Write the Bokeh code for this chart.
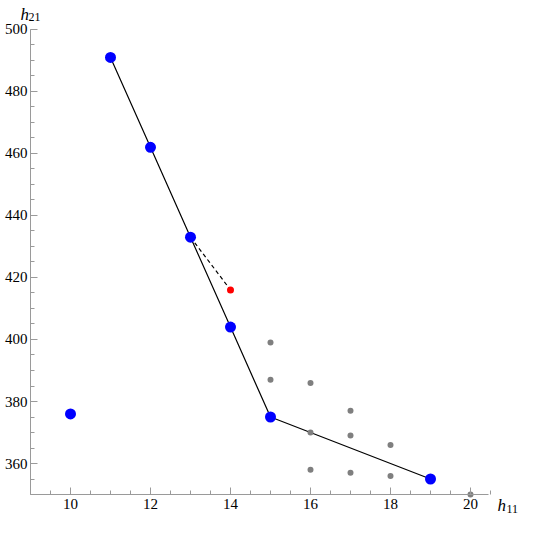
from bokeh.plotting import figure
from bokeh.models import FixedTicker, Label, Range1d, LinearAxis
from bokeh.embed import file_html
from bokeh.resources import INLINE

# Data
blue_x = [11, 12, 13, 14, 15, 19, 10]
blue_y = [491, 462, 433, 404, 375, 355, 376]
path_x = [11, 12, 13, 14, 15, 19]
path_y = [491, 462, 433, 404, 375, 355]
dash_x = [13, 14]
dash_y = [433, 416]
red_x = [14]
red_y = [416]
gray_x = [15, 15, 16, 16, 17, 17, 18, 16, 17, 18, 20]
gray_y = [399, 387, 386, 370, 377, 369, 366, 358, 357, 356, 350]
x_ticks = [10, 12, 14, 16, 18, 20]
y_ticks = [360, 380, 400, 420, 440, 460, 480, 500]
x_minor = [9 + 0.5 * i for i in range(24)]
y_minor = [350 + 5 * i for i in range(31)]
x_axis_at = 9
y_axis_at = 350
x_end = 20.45
y_end = 500

FONT = "Liberation Serif"
AX = "#9a9a9a"

p = figure(width=529, height=518, output_backend="svg", toolbar_location=None,
           x_range=Range1d(8.25, 21.475), y_range=Range1d(342.26, 509.35),
           x_axis_location=None, y_axis_location=None,
           min_border=0)
p.outline_line_color = None
p.xgrid.visible = False
p.ygrid.visible = False

xax = LinearAxis(fixed_location=y_axis_at, bounds=(x_axis_at, x_end))
yax = LinearAxis(fixed_location=x_axis_at, bounds=(y_axis_at, y_end))
p.add_layout(xax, "below")
p.add_layout(yax, "left")

for ax, ticks, minor in ((xax, x_ticks, x_minor), (yax, y_ticks, y_minor)):
    ax.ticker = FixedTicker(ticks=ticks, minor_ticks=minor)
    ax.axis_line_color = AX
    ax.major_tick_line_color = AX
    ax.minor_tick_line_color = AX
    ax.major_tick_in = 7
    ax.major_tick_out = 0
    ax.minor_tick_in = 4
    ax.minor_tick_out = 0
    ax.major_label_text_font = FONT
    ax.major_label_text_font_size = "15px"
    ax.major_label_text_color = "black"
    ax.major_label_standoff = 3
xax.major_label_standoff = 4

p.line(path_x, path_y, line_color="black", line_width=1.2)
p.line(dash_x, dash_y, line_color="black", line_width=1.2, line_dash="4 3")
p.scatter(gray_x, gray_y, size=6, fill_color="#7f7f7f", line_color=None)
p.scatter(red_x, red_y, size=7, fill_color="#ff0000", line_color=None)
p.scatter(blue_x, blue_y, size=11, fill_color="#0000ff", line_color=None)

def lab(x, y, t, xo, yo, size, italic):
    p.add_layout(Label(x=x, y=y, text=t, x_offset=xo, y_offset=yo,
                       text_font=FONT, text_font_size=size,
                       text_font_style="italic" if italic else "normal",
                       text_align="left", text_baseline="alphabetic", text_color="black"))

lab(x_axis_at, y_end, "h", -10, 15, "17px", True)
lab(x_axis_at, y_end, "21", -2, 12, "12px", False)
lab(x_end, y_axis_at, "h", 9, -11, "17px", True)
lab(x_end, y_axis_at, "11", 18, -14, "12px", False)

open("out.html", "w").write(file_html(p, INLINE))
